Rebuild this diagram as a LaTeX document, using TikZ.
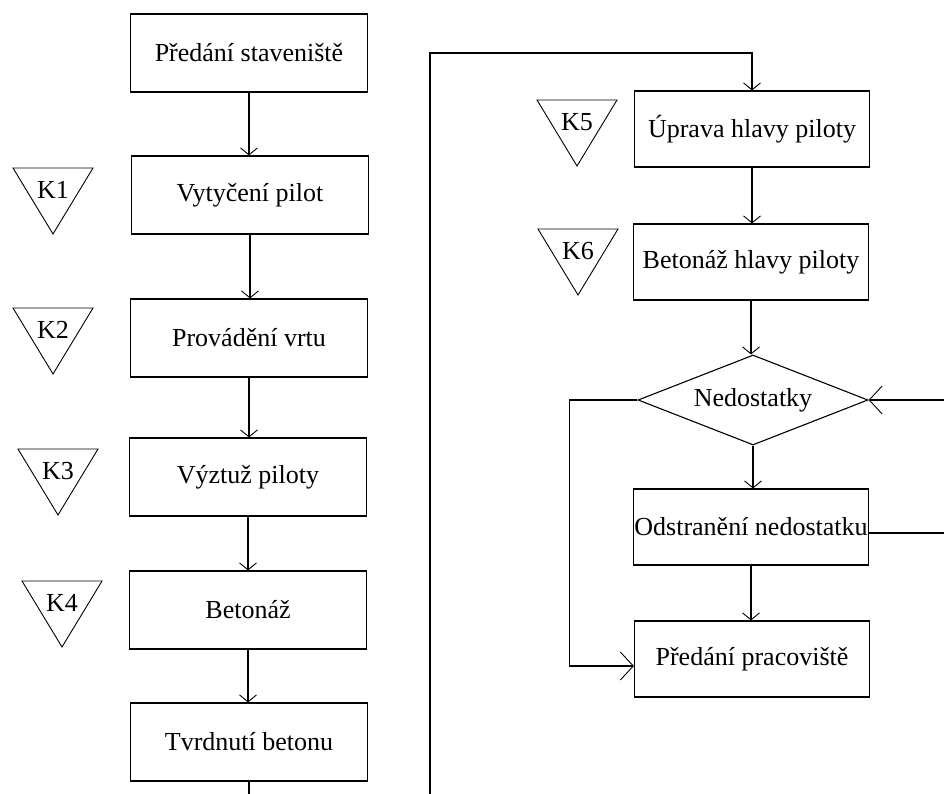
\documentclass[tikz,border=0pt]{standalone}
\usepackage{fontspec}
\setmainfont{Liberation Serif}
\usetikzlibrary{shapes.geometric,arrows.meta}

\begin{document}
\begin{tikzpicture}[x=1pt,y=-1pt,line width=1.1pt,font=\fontsize{26}{30}\selectfont,
stepbox/.style={draw,rectangle,minimum width=237pt,minimum height=78pt,inner sep=0pt},
widebox/.style={stepbox,minimum width=235pt,minimum height=76pt},
check/.style={diamond,draw,aspect=2.55,minimum width=230pt,minimum height=90pt,inner sep=0pt},
kmark/.style={draw,line width=0.9pt,line join=miter},
arr/.style={-{Straight Barb[length=7pt,width=17pt,line width=0.9pt]}},
looparr/.style={-{Straight Barb[length=13pt,width=28pt,line width=0.9pt]}}]
\useasboundingbox (0,0) rectangle (944,794);
\clip (0,0) rectangle (944,794);
\node[stepbox] (b1) at (249,53) {Předání staveniště};
\node[stepbox] (b2) at (250,195) {Vytyčení pilot};
\node[stepbox] (b3) at (249,338) {Provádění vrtu};
\node[stepbox] (b4) at (248,477) {Výztuž piloty};
\node[stepbox] (b5) at (248,610) {Betonáž};
\node[stepbox] (b6) at (249,742) {Tvrdnutí betonu};
\node[widebox] (r1) at (752,129) {Úprava hlavy piloty};
\node[widebox] (r2) at (751,262) {Betonáž hlavy piloty};
\node[check] (r3) at (753,400) {Nedostatky};
\node[widebox] (r4) at (751,527) {Odstranění nedostatku};
\node[widebox] (r5) at (752,659) {Předání pracoviště};
\foreach \k/\x/\y in %
{1/13/168,2/13/308,3/18/449,4/22/581,5/537/100,6/538/229} {
   \draw[kmark] (\x,\y) -- ++(80,0) -- ++(-40,66) -- cycle;
   \node (k\k) at (\x+40,\y+22) {K\k};
}
\foreach \a/\b in %
{b1/b2,b2/b3,b3/b4,b4/b5,b5/b6,r1/r2,r2/r3,r3/r4,r4/r5} {
   \draw[arr] (\a.south) -- (\a.south |- \b.north);
}
\coordinate (low) at (430,830);
\coordinate (up) at (430,53);
\coordinate (far) at (990,0);
\draw[arr] (b6.south) |- (low) -- (up) -| (r1.north);
\draw[looparr] (r3.west) -- ++(-68,0) |- ([yshift=-7pt]r5.west);
\draw[looparr] ([yshift=-6pt]r4.east) -| (far |- r3.east) -- (r3.east);
\end{tikzpicture}
\end{document}
